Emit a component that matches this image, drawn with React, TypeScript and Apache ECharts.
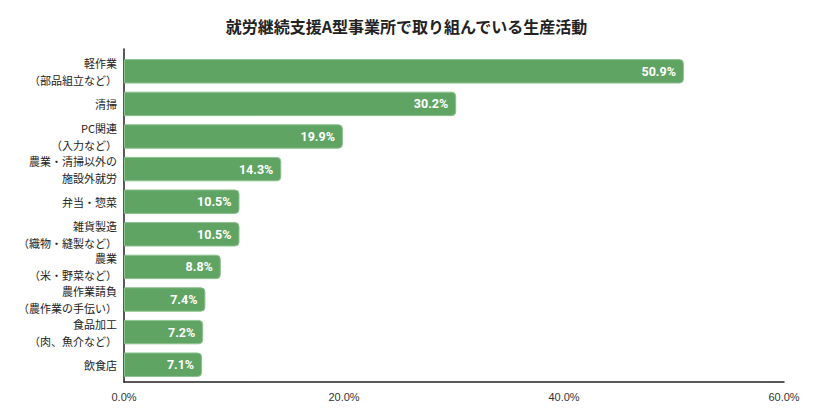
import React, { useEffect, useRef } from "react";
import * as echarts from "echarts";

const categories = [
	"軽作業\n（部品組立など）",
	"清掃",
	"PC関連\n（入力など）",
	"農業・清掃以外の\n施設外就労",
	"弁当・惣菜",
	"雑貨製造\n（織物・縫製など）",
	"農業\n（米・野菜など）",
	"農作業請負\n（農作業の手伝い）",
	"食品加工\n（肉、魚介など）",
	"飲食店",
];
const values = [50.9, 30.2, 19.9, 14.3, 10.5, 10.5, 8.8, 7.4, 7.2, 7.1];
const title = "就労継続支援A型事業所で取り組んでいる生産活動";

const App: React.FC = () => {
	const chartRef = useRef<HTMLDivElement>(null);

	useEffect(() => {
		if (!chartRef.current) return;
		const chart = echarts.init(chartRef.current, undefined, { renderer: "svg" });
		const axisLine = { show: true, lineStyle: { color: "#222", width: 1.5 } };
		chart.setOption({
			animation: false,
			title: {
				text: title,
				left: "center",
				top: 5,
				textStyle: {
					fontSize: 16,
					fontWeight: "bold",
					color: "#222",
					fontFamily: "Noto Sans CJK JP",
				},
			},
			// grid 0 holds the bars, grid 1 only draws the axis frame (a bit larger, like the original)
			grid: [
				{ left: 116, right: 21, top: 47, bottom: 21 },
				{ left: 116, right: 21, top: 41, bottom: 15 },
			],
			xAxis: [
				{
					type: "value",
					gridIndex: 0,
					min: 0,
					max: 60,
					interval: 20,
					show: false,
				},
				{
					type: "value",
					gridIndex: 1,
					min: 0,
					max: 60,
					interval: 20,
					axisLine,
					axisTick: { show: false },
					splitLine: { show: false },
					axisLabel: {
						formatter: (v: number) => v.toFixed(1) + "%",
						color: "#333",
						fontSize: 11,
						fontFamily: "Liberation Sans",
						margin: 9,
					},
				},
			],
			yAxis: [
				{
					type: "category",
					gridIndex: 0,
					data: categories,
					inverse: true,
					axisLine: { show: false },
					axisTick: { show: false },
					axisLabel: {
						color: "#222",
						fontSize: 11,
						lineHeight: 17,
						fontFamily: "Noto Sans CJK JP",
						margin: 7,
					},
				},
				{
					type: "category",
					gridIndex: 1,
					data: categories,
					inverse: true,
					axisLine,
					axisTick: { show: false },
					axisLabel: { show: false },
				},
			],
			series: [
				{
					type: "bar",
					xAxisIndex: 0,
					yAxisIndex: 0,
					data: values,
					barWidth: "75%",
					itemStyle: {
						color: "#60a463",
						borderColor: "#8cc28e",
						borderWidth: 1,
						borderRadius: [0, 4, 4, 0],
					},
					label: {
						show: true,
						position: "insideRight",
						distance: 8,
						formatter: (p: any) => p.value.toFixed(1) + "%",
						color: "#fff",
						fontSize: 12.5,
						fontWeight: "bold",
						fontFamily: "Roboto",
					},
				},
			],
		});
		return () => {
			chart.dispose();
		};
	}, []);

	return <div ref={chartRef} style={{ width: 797, height: 394 }} />;
};

export default App;
